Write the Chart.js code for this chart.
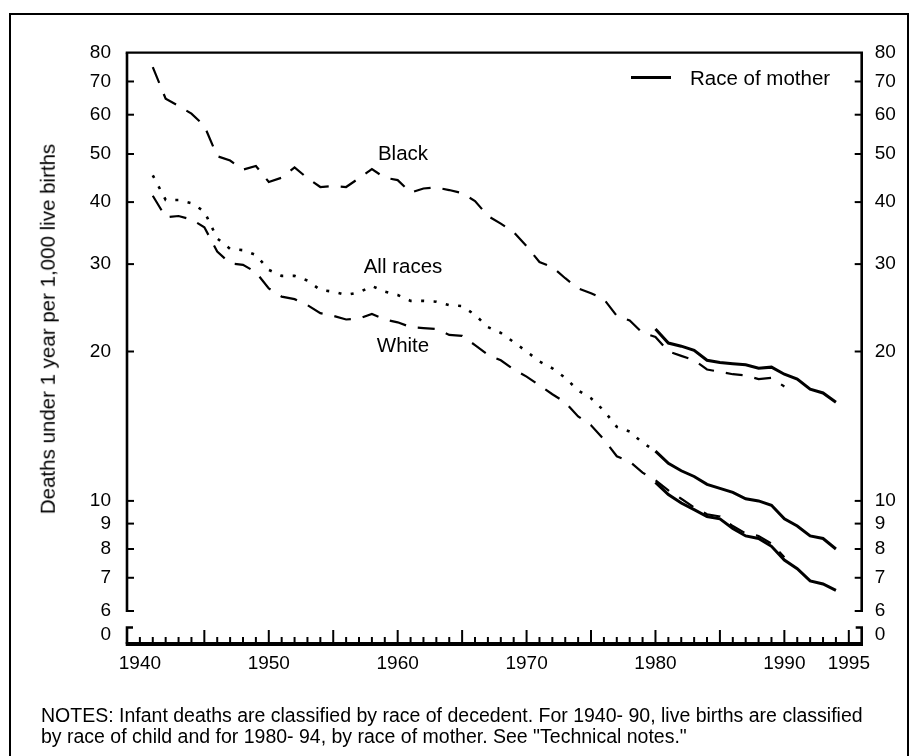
<!DOCTYPE html>
<html>
<head>
<meta charset="utf-8">
<title>Infant mortality rates by race</title>
<script src="https://cdn.jsdelivr.net/npm/chart.js@4.4.1/dist/chart.umd.min.js"></script>
<style>
  html, body { margin: 0; padding: 0; background: #fff; }
  body { width: 911px; height: 756px; position: relative; overflow: hidden;
         font-family: "Liberation Sans", Arial, sans-serif; color: #000; }
  #frame { position: absolute; left: 9px; top: 13px; width: 896px; height: 800px; border: 2px solid #000; }
  canvas { position: absolute; left: 0; top: 0; }
  .lbl { position: absolute; white-space: nowrap; font-size: 20.5px; line-height: 20.5px; transform: translateX(-50%); }
  #ytitle { position: absolute; left: 48px; top: 329px; white-space: nowrap; font-size: 20.5px; line-height: 20.5px;
            transform: translate(-50%, -50%) rotate(-90deg); }
  #legend-line { position: absolute; left: 631px; top: 75.5px; width: 40px; height: 3px; background: #000; }
  #legend-text { position: absolute; left: 690px; top: 67.5px; font-size: 20.5px; line-height: 20.5px; white-space: nowrap; }
  #notes { position: absolute; left: 41px; top: 705px; font-size: 19.5px; line-height: 20.5px; white-space: nowrap; }
</style>
</head>
<body>
<div id="frame"></div>
<canvas id="chart" width="911" height="756"></canvas>
<div id="ytitle">Deaths under 1 year per 1,000 live births</div>
<div id="legend-line"></div>
<div id="legend-text">Race of mother</div>
<div class="lbl" style="left:403px; top:143px;">Black</div>
<div class="lbl" style="left:403px; top:256px;">All races</div>
<div class="lbl" style="left:403px; top:335px;">White</div>
<div id="notes">NOTES: Infant deaths are classified by race of decedent. For 1940- 90, live births are classified<br>by race of child and for 1980- 94, by race of mother. See "Technical notes."</div>

<script>
// --- data (race of child, 1941-90) ---
const yearsChild = [1941, 1942, 1943, 1944, 1945, 1946, 1947, 1948, 1949, 1950,
                    1951, 1952, 1953, 1954, 1955, 1956, 1957, 1958, 1959, 1960,
                    1961, 1962, 1963, 1964, 1965, 1966, 1967, 1968, 1969, 1970,
                    1971, 1972, 1973, 1974, 1975, 1976, 1977, 1978, 1979, 1980,
                    1981, 1982, 1983, 1984, 1985, 1986, 1987, 1988, 1989, 1990];
const blackChild = [74.8, 64.6, 62.5, 60.3, 57.0, 49.5, 48.5, 46.5, 47.3, 43.9,
                    44.8, 47.0, 44.7, 42.9, 43.1, 42.9, 44.7, 46.6, 44.8, 44.3,
                    41.8, 42.6, 42.8, 42.3, 41.7, 40.2, 37.5, 36.2, 34.8, 32.6,
                    30.3, 29.6, 28.1, 26.8, 26.2, 25.5, 23.6, 23.1, 21.8, 21.4,
                    20.0, 19.6, 19.2, 18.4, 18.2, 18.0, 17.9, 17.6, 17.7, 17.0];
const whiteChild = [41.2, 37.3, 37.5, 36.9, 35.6, 31.8, 30.1, 29.9, 28.9, 26.8,
                    25.8, 25.5, 24.8, 23.9, 23.6, 23.2, 23.3, 23.8, 23.2, 22.9,
                    22.4, 22.3, 22.2, 21.6, 21.5, 20.6, 19.7, 19.2, 18.4, 17.8,
                    17.1, 16.4, 15.8, 14.8, 14.2, 13.3, 12.3, 12.0, 11.4, 11.0,
                    10.5, 10.1, 9.7, 9.4, 9.3, 8.9, 8.6, 8.5, 8.2, 7.7];

// all races, 1941-80
const yearsAll = [1941, 1942, 1943, 1944, 1945, 1946, 1947, 1948, 1949, 1950,
                  1951, 1952, 1953, 1954, 1955, 1956, 1957, 1958, 1959, 1960,
                  1961, 1962, 1963, 1964, 1965, 1966, 1967, 1968, 1969, 1970,
                  1971, 1972, 1973, 1974, 1975, 1976, 1977, 1978, 1979, 1980];
const allRaces = [45.3, 40.4, 40.4, 39.8, 38.3, 33.8, 32.2, 32.0, 31.3, 29.2,
                  28.4, 28.4, 27.8, 26.6, 26.4, 26.0, 26.3, 27.1, 26.4, 26.0,
                  25.3, 25.3, 25.2, 24.8, 24.7, 23.7, 22.4, 21.8, 20.9, 20.0,
                  19.1, 18.5, 17.7, 16.7, 16.1, 15.2, 14.1, 13.8, 13.1, 12.6];

// race of mother, 1980-94
const yearsMother = [1980, 1981, 1982, 1983, 1984, 1985, 1986, 1987,
                     1988, 1989, 1990, 1991, 1992, 1993, 1994];
const blackMother = [22.2, 20.8, 20.5, 20.1, 19.2, 19.0, 18.9, 18.8,
                     18.5, 18.6, 18.0, 17.6, 16.8, 16.5, 15.8];
const allMother   = [12.6, 11.9, 11.5, 11.2, 10.8, 10.6, 10.4, 10.1,
                     10.0, 9.8, 9.2, 8.9, 8.5, 8.4, 8.0];
const whiteMother = [10.9, 10.3, 9.9, 9.6, 9.3, 9.2, 8.8, 8.5,
                     8.4, 8.1, 7.6, 7.3, 6.9, 6.8, 6.6];

// axes
const yTickValues = [6, 7, 8, 9, 10, 20, 30, 40, 50, 60, 70, 80];
const xLabelYears = [1940, 1950, 1960, 1970, 1980, 1990, 1995];
const xFirstYear = 1940, xLastYear = 1995;

// the log axis runs a little below 6 so the x axis sits under the broken "0"
const Y_MAX = 80, Y_LOW = 6;
const yMin = Y_MAX / Math.pow(Y_MAX / Y_LOW, 589.3 / 558.3);
const zeroMark = Y_MAX / Math.pow(Y_MAX / Y_LOW, 582.3 / 558.3);

const FONT = '"Liberation Sans", Arial, sans-serif';
Chart.defaults.font.family = FONT;
Chart.defaults.color = '#000';

function pts(xs, ys) { return xs.map((x, i) => ({ x: x, y: ys[i] })); }

function line(data, dash, width) {
    return { data: data, borderColor: '#000', borderWidth: width, borderDash: dash,
             borderCapStyle: 'butt', pointRadius: 0, tension: 0, fill: false, yAxisID: 'y' };
}

// axis lines, inward ticks and the break brackets
const axisDecor = {
    id: 'axisDecor',
    afterDraw(chart) {
        const ctx = chart.ctx;
        const { left, right, bottom } = chart.chartArea;
        const y = chart.scales.y, x = chart.scales.x;
        const yTop = y.getPixelForValue(Y_MAX), y6 = y.getPixelForValue(Y_LOW);
        const seg = (x1, y1, x2, y2) => { ctx.beginPath(); ctx.moveTo(x1, y1); ctx.lineTo(x2, y2); ctx.stroke(); };
        ctx.save();
        ctx.strokeStyle = '#000';
        ctx.lineCap = 'butt';

        ctx.lineWidth = 2.3;
        seg(left - 1.3, yTop, right + 1.3, yTop);
        ctx.lineWidth = 2.6;
        seg(left, yTop, left, y6 + 1);
        seg(right, yTop, right, y6 + 1);

        ctx.lineWidth = 2;
        y.ticks.forEach(t => {
            if (t.value === zeroMark || t.value === Y_MAX) return;
            const py = y.getPixelForValue(t.value);
            seg(left, py, left + 7, py);
            seg(right, py, right - 7, py);
        });

        ctx.lineWidth = 4;
        seg(left - 1.3, bottom + 2, right + 1.3, bottom + 2);
        ctx.lineWidth = 2;
        x.ticks.forEach(t => {
            const px = x.getPixelForValue(t.value);
            const tall = t.value % 5 === 0 && t.value !== xFirstYear;
            seg(px, bottom, px, bottom - (tall ? 12 : 5));
        });

        const bTop = y.getPixelForValue(zeroMark) - 7.5;
        ctx.lineWidth = 2.6;
        ctx.beginPath(); ctx.moveTo(left + 6, bTop); ctx.lineTo(left, bTop); ctx.lineTo(left, bottom + 2); ctx.stroke();
        ctx.beginPath(); ctx.moveTo(right - 6, bTop); ctx.lineTo(right, bTop); ctx.lineTo(right, bottom + 2); ctx.stroke();
        ctx.restore();
    }
};

function yAxis(position, padding, width) {
    return {
        type: 'logarithmic', position: position, min: yMin, max: Y_MAX,
        grid: { display: false, drawTicks: false }, border: { display: false },
        afterBuildTicks: s => { s.ticks = yTickValues.concat([zeroMark]).map(v => ({ value: v })); },
        afterFit: s => { s.width = width; },
        ticks: { autoSkip: false, padding: padding, color: '#000', font: { size: 19 },
                 callback: v => v === zeroMark ? '0' : String(v) }
    };
}

new Chart(document.getElementById('chart'), {
    type: 'line',
    data: {
        datasets: [
            line(pts(yearsChild, blackChild), [17, 12], 2.2),
            line(pts(yearsAll, allRaces), [3, 9.5], 2.6),
            line(pts(yearsChild, whiteChild), [17, 12], 2.2),
            line(pts(yearsMother, blackMother), [], 3),
            line(pts(yearsMother, allMother), [], 3),
            line(pts(yearsMother, whiteMother), [], 3)
        ]
    },
    options: {
        responsive: false,
        animation: false,
        devicePixelRatio: 1,
        layout: { padding: { top: 52.7, left: 0, right: 0, bottom: 0 } },
        plugins: { legend: { display: false }, tooltip: { enabled: false } },
        scales: {
            x: {
                type: 'linear', position: 'bottom', min: 1939, max: 1996,
                grid: { display: false, drawTicks: false }, border: { display: false },
                afterBuildTicks: s => {
                    const t = [];
                    for (let yr = xFirstYear; yr <= xLastYear; yr++) t.push({ value: yr });
                    s.ticks = t;
                },
                afterFit: s => { s.height = 114; },
                ticks: { autoSkip: false, maxRotation: 0, padding: 10, color: '#000', font: { size: 19 },
                         callback: v => xLabelYears.includes(v) ? String(v) : '' }
            },
            y: yAxis('left', 16, 127),
            y2: yAxis('right', 13, 49.3)
        }
    },
    plugins: [axisDecor]
});
</script>
</body>
</html>
